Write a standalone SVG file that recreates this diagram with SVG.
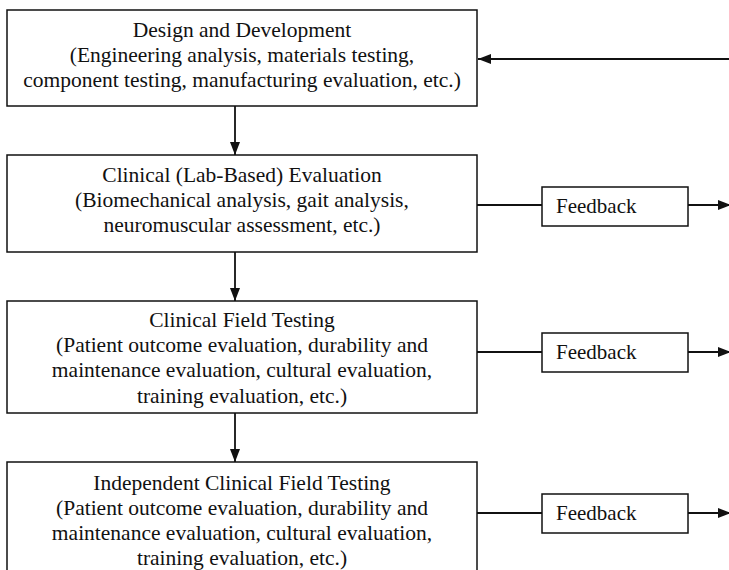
<svg xmlns="http://www.w3.org/2000/svg" width="729" height="570" viewBox="0 0 729 570">
<style>
.box{fill:#fff;stroke:#111;stroke-width:1.5}
.t{font-family:"Liberation Serif","Times New Roman",serif;font-size:21.5px;fill:#111;text-anchor:middle}
.fb{font-family:"Liberation Serif","Times New Roman",serif;font-size:21px;fill:#111}
.c{stroke:#111;stroke-width:1.8;fill:none}
</style>
<defs>
<marker id="ah" markerUnits="userSpaceOnUse" markerWidth="14" markerHeight="12" refX="13" refY="5" orient="auto">
<path d="M0,0 L13,5 L0,10 z" fill="#111"/>
</marker>
</defs>
<rect width="729" height="570" fill="#fff"/>
<g id="connectors">
<line class="c" x1="731" y1="59" x2="478" y2="59" marker-end="url(#ah)"/>
<line class="c" x1="235" y1="106" x2="235" y2="155" marker-end="url(#ah)"/>
<line class="c" x1="235" y1="252" x2="235" y2="301" marker-end="url(#ah)"/>
<line class="c" x1="235" y1="413" x2="235" y2="462" marker-end="url(#ah)"/>
<line class="c" x1="477" y1="205" x2="542" y2="205"/>
<line class="c" x1="688" y1="205" x2="731" y2="205" marker-end="url(#ah)"/>
<line class="c" x1="477" y1="352" x2="542" y2="352"/>
<line class="c" x1="688" y1="352" x2="731" y2="352" marker-end="url(#ah)"/>
<line class="c" x1="477" y1="513" x2="542" y2="513"/>
<line class="c" x1="688" y1="513" x2="731" y2="513" marker-end="url(#ah)"/>
</g>
<g id="design">
<rect class="box" x="7" y="10" width="470" height="96"/>
<text class="t" x="242" y="37">Design and Development</text>
<text class="t" x="242" y="62">(Engineering analysis, materials testing,</text>
<text class="t" x="242" y="87">component testing, manufacturing evaluation, etc.)</text>
</g>
<g id="clinical-lab">
<rect class="box" x="7" y="155" width="470" height="97"/>
<text class="t" x="242" y="182">Clinical (Lab-Based) Evaluation</text>
<text class="t" x="242" y="207">(Biomechanical analysis, gait analysis,</text>
<text class="t" x="242" y="232">neuromuscular assessment, etc.)</text>
</g>
<g id="clinical-field">
<rect class="box" x="7" y="301" width="470" height="112"/>
<text class="t" x="242" y="327">Clinical Field Testing</text>
<text class="t" x="242" y="352">(Patient outcome evaluation, durability and</text>
<text class="t" x="242" y="377">maintenance evaluation, cultural evaluation,</text>
<text class="t" x="242" y="403">training evaluation, etc.)</text>
</g>
<g id="independent-field">
<rect class="box" x="7" y="462" width="470" height="114"/>
<text class="t" x="242" y="490">Independent Clinical Field Testing</text>
<text class="t" x="242" y="515">(Patient outcome evaluation, durability and</text>
<text class="t" x="242" y="540">maintenance evaluation, cultural evaluation,</text>
<text class="t" x="242" y="565">training evaluation, etc.)</text>
</g>
<g id="feedback1">
<rect class="box" x="542" y="187" width="146" height="39"/>
<text class="fb" x="556" y="213">Feedback</text>
</g>
<g id="feedback2">
<rect class="box" x="542" y="333" width="146" height="39"/>
<text class="fb" x="556" y="359">Feedback</text>
</g>
<g id="feedback3">
<rect class="box" x="542" y="494" width="146" height="39"/>
<text class="fb" x="556" y="520">Feedback</text>
</g>
</svg>
